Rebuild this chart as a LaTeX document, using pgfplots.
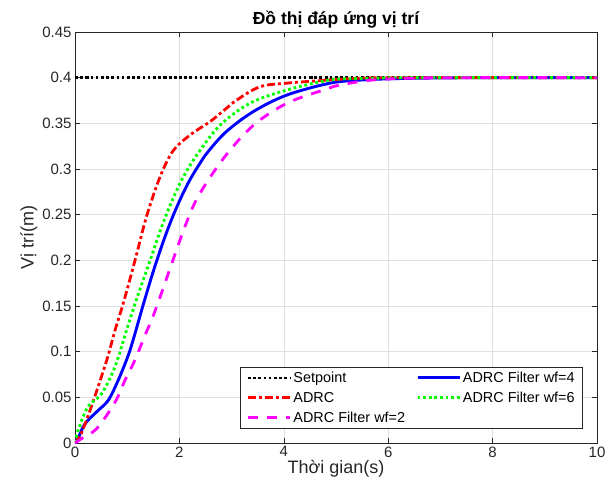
\documentclass[border=0pt]{standalone}
\usepackage{fontspec}
\setmainfont{Liberation Sans}
\usepackage{pgfplots}
\pgfplotsset{compat=1.18}
\definecolor{axgray}{gray}{0.15}
\definecolor{gridgray}{gray}{0.88}
\definecolor{mred}{rgb}{1,0,0}
\definecolor{mblue}{rgb}{0,0,1}
\definecolor{mgreen}{rgb}{0,1,0}
\definecolor{mmag}{rgb}{1,0,1}

\pgfplotstableread{
t v
0 0
0.06 0.005
0.15 0.017
0.25 0.025
0.45 0.036
0.64 0.047
0.83 0.069
1.02 0.096
1.13 0.116
1.3 0.150
1.5 0.188
1.7 0.222
1.88 0.249
2.05 0.271
2.2 0.288
2.38 0.305
2.55 0.319
2.9 0.341
3.42 0.363
4.06 0.381
4.89 0.394
5.5 0.3975
6.2 0.399
7 0.3997
8 0.4
10 0.4
}\wffour

\pgfplotstableread{
t v
0 0
0.1 0.008
0.22 0.025
0.38 0.051
0.61 0.091
0.77 0.124
0.93 0.154
1.15 0.2
1.37 0.248
1.63 0.2915
1.88 0.320
2.2 0.337
2.59 0.352
2.85 0.364
3.1 0.3755
3.54 0.390
4.06 0.394
4.89 0.3975
5.5 0.3995
6.5 0.4
10 0.4
}\adrc

\pgfplotstableread{
t v
0 0
0.06 0.014
0.25 0.04
0.51 0.054
0.77 0.084
0.99 0.124
1.2 0.161
1.44 0.2
1.6 0.227
1.76 0.2515
1.95 0.277
2.14 0.298
2.39 0.320
2.78 0.348
3.35 0.372
4.06 0.3865
4.89 0.3975
5.5 0.399
6.5 0.4
10 0.4
}\wfsix

\pgfplotstableread{
t v
0 0
0.13 0.005
0.42 0.016
0.77 0.045
0.96 0.069
1.15 0.091
1.34 0.118
1.47 0.135
1.65 0.163
1.82 0.191
2.14 0.242
2.39 0.273
2.87 0.3135
3.42 0.348
4.06 0.372
4.76 0.3865
5.08 0.392
5.71 0.3975
6.5 0.3995
7.5 0.4
10 0.4
}\wftwo

\begin{document}
\begin{tikzpicture}
\begin{axis}[
  scale only axis, width=522pt, height=411pt,
  xmin=0, xmax=10, ymin=0, ymax=0.45,
  xtick={0,2,...,10}, ytick={0,0.05,...,0.45},
  yticklabels={0,0.05,0.1,0.15,0.2,0.25,0.3,0.35,0.4,0.45},
  /pgf/number format/assume math mode=true,
  grid=major, major grid style={gridgray, line width=0.6pt},
  axis line style={axgray, line width=0.6pt},
  tick style={axgray, line width=0.6pt}, tick align=inside,
  major tick length=5pt,
  tick label style={font=\fontsize{15}{17}\selectfont, text=axgray},
  label style={font=\fontsize{18}{20}\selectfont, text=axgray},
  title style={font=\bfseries\fontsize{17.5}{20}\selectfont, yshift=-6pt},
  title={Đồ thị đáp ứng vị trí},
  xlabel={Thời gian(s)}, ylabel={Vị trí(m)},
  xlabel style={yshift=4pt}, ylabel style={yshift=-2pt},
  legend columns=2,
  legend style={at={(0.973,0.034)}, anchor=south east, draw=axgray, line width=0.6pt,
    font=\fontsize{14.4}{16}\selectfont, inner xsep=6pt, inner ysep=3pt,
    row sep=4pt, /tikz/every even column/.append style={column sep=9pt}},
  legend cell align=left,
  legend image code/.code={\draw[#1] (0pt,0pt) -- (42pt,0pt);},
  every axis plot/.append style={smooth, tension=0.55},
]
\addplot[black, line width=2.6pt, dash pattern=on 2.6pt off 2.6pt] coordinates {(0,0.4) (10,0.4)};
\addlegendentry{Setpoint}
\addplot[mblue, line width=2.9pt] table {\wffour};
\addlegendentry{ADRC Filter wf=4}
\addplot[mred, line width=2.8pt, dash pattern=on 8pt off 3pt on 3pt off 3pt] table {\adrc};
\addlegendentry{ADRC}
\addplot[mgreen, line width=2.9pt, dash pattern=on 2.8pt off 2.8pt] table {\wfsix};
\addlegendentry{ADRC Filter wf=6}
\addplot[mmag, line width=2.8pt, dash pattern=on 10pt off 9pt] table {\wftwo};
\addlegendentry{ADRC Filter wf=2}
\end{axis}
\useasboundingbox (current axis.south west) ++(-75pt,-50pt) rectangle ([xshift=18pt,yshift=32pt]current axis.north east);
\end{tikzpicture}
\end{document}
